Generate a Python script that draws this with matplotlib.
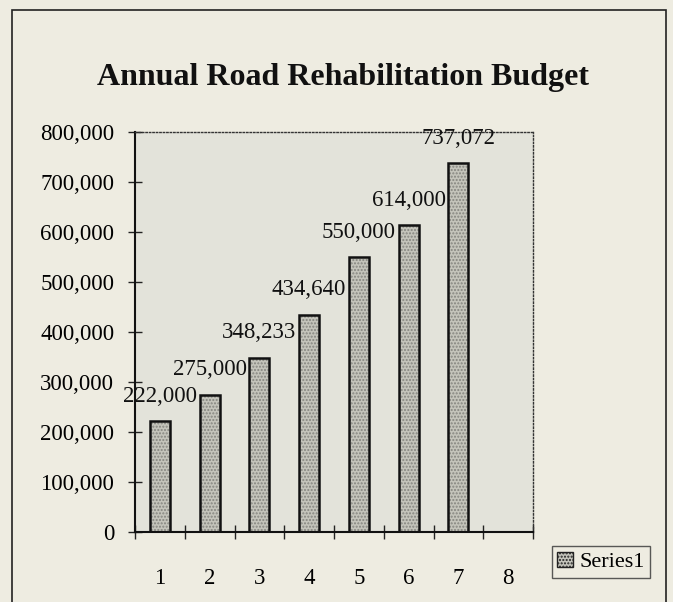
import matplotlib
matplotlib.use("Agg")
import matplotlib.pyplot as plt
from matplotlib.patches import Rectangle, Patch
from matplotlib.ticker import FuncFormatter, FixedLocator
import numpy as np

# dados do grafico
anos = [1, 2, 3, 4, 5, 6, 7, 8]
orcamento = [222000, 275000, 348233, 434640, 550000, 614000, 737072]
titulo = "Annual Road Rehabilitation Budget"
serie = "Series1"

plt.rcParams['font.family'] = ['Liberation Serif', 'DejaVu Serif']

fundo = '#eeece1'
area = '#e3e3da'

fig = plt.figure(figsize=(6.73, 6.02), dpi=100, facecolor=fundo)
ax = fig.add_axes([135 / 673, 70 / 602, 398 / 673, 400 / 602])
ax.set_facecolor(area)

# moldura externa
fig.patches.append(Rectangle((12 / 673, -0.05), 654 / 673, 1.05 - 10 / 602,
                             transform=fig.transFigure, fill=False,
                             edgecolor='#222222', linewidth=1.2))

x = anos[:len(orcamento)]
# preenchimento pontilhado
ax.bar(x, orcamento, width=0.4, color='#c4c4bb', edgecolor='#85857f',
       hatch='.....', linewidth=0, zorder=2)
# contorno das barras
ax.bar(x, orcamento, width=0.4, fill=False, edgecolor='#111111',
       linewidth=1.8, zorder=3)

# valores acima das barras
for xi, yi in zip(x, orcamento):
    ax.annotate(f"{yi:,}", (xi, yi), xytext=(0, 18), textcoords='offset points',
                ha='center', va='center', fontsize=16.5, color='#111111')

ax.set_xlim(anos[0] - 0.5, anos[-1] + 0.5)
ax.set_ylim(0, 800000)
ax.yaxis.set_major_locator(FixedLocator(np.arange(0, 800001, 100000)))
ax.yaxis.set_major_formatter(FuncFormatter(lambda v, p: f"{int(v):,}"))

# marcas entre categorias, rotulos no centro
ax.set_xticks([a - 0.5 for a in anos] + [anos[-1] + 0.5])
ax.set_xticklabels([])
ax.set_xticks(anos, minor=True)
ax.set_xticklabels([str(a) for a in anos], minor=True)
ax.tick_params(axis='x', which='major', direction='inout', length=10, width=1, color='#222222')
ax.tick_params(axis='x', which='minor', length=0, pad=26, labelsize=16.5)
ax.tick_params(axis='y', direction='inout', length=10, width=1, color='#222222',
               pad=10, labelsize=16.5)

for lado in ['left', 'bottom']:
    ax.spines[lado].set_color('#111111')
    ax.spines[lado].set_linewidth(1.5)
for lado in ['top', 'right']:
    ax.spines[lado].set_linestyle((0, (1, 1.5)))
    ax.spines[lado].set_color('#333333')
    ax.spines[lado].set_linewidth(1.0)

fig.text(343 / 673, 1 - 77 / 602, titulo, ha='center', va='center',
         fontsize=23, fontweight='bold', color='#111111')

marcador = Patch(facecolor='#c4c4bb', edgecolor='#222222', hatch='.....', linewidth=1)
leg = fig.legend([marcador], [serie], loc='center', bbox_to_anchor=(601 / 673, 1 - 562 / 602),
                 fontsize=16, frameon=True, fancybox=False, handlelength=0.7,
                 handleheight=0.7, handletextpad=0.3, borderpad=0.25, borderaxespad=0)
leg.get_frame().set_edgecolor('#333333')
leg.get_frame().set_facecolor(fundo)
leg.get_frame().set_linewidth(1.0)

fig.savefig('out.png', dpi=100, facecolor=fundo)
plt.close(fig)
